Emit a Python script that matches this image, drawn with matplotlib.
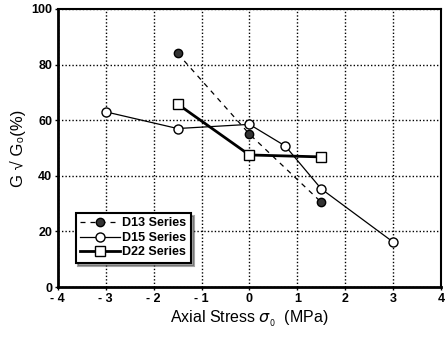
import matplotlib.pyplot as plt
from matplotlib.ticker import FixedLocator, FuncFormatter

# data
d13_x = [-1.5, 0.0, 1.5]
d13_y = [84, 55, 30.5]
d15_x = [-3.0, -1.5, 0.0, 0.75, 1.5, 3.0]
d15_y = [63, 57, 58.5, 50.7, 35.3, 16.2]
d22_x = [-1.5, 0.0, 1.5]
d22_y = [65.8, 47.5, 46.8]

x_ticks = [-4, -3, -2, -1, 0, 1, 2, 3, 4]
y_ticks = [0, 20, 40, 60, 80, 100]

plt.rcParams["font.family"] = ["Liberation Sans", "DejaVu Sans"]

fig = plt.figure(figsize=(4.45, 3.43), dpi=100)
ax = fig.add_axes([0.130, 0.163, 0.861, 0.811])

ax.plot(d13_x, d13_y, linestyle=(0, (4, 4)), color="black", linewidth=0.9,
        marker="o", markersize=6, markerfacecolor="#333333",
        markeredgecolor="black", label="D13 Series", zorder=3)
ax.plot(d15_x, d15_y, "-", color="black", linewidth=0.9,
        marker="o", markersize=6.5, markerfacecolor="white",
        markeredgecolor="black", label="D15 Series", zorder=3)
ax.plot(d22_x, d22_y, "-", color="black", linewidth=2.0,
        marker="s", markersize=6.5, markerfacecolor="white",
        markeredgecolor="black", markeredgewidth=1.0,
        label="D22 Series", zorder=2)

ax.set_xlim(-4, 4)
ax.set_ylim(0, 100)
ax.xaxis.set_major_locator(FixedLocator(x_ticks))
ax.yaxis.set_major_locator(FixedLocator(y_ticks))
ax.xaxis.set_major_formatter(FuncFormatter(
    lambda v, p: f"- {abs(int(v))}" if v < 0 else f"{int(v)}"))
ax.tick_params(axis="both", labelsize=9, direction="out", length=2, width=1,
               pad=2)
for lbl in ax.get_xticklabels() + ax.get_yticklabels():
    lbl.set_fontweight("bold")

ax.grid(True, linestyle=(0, (1, 1.5)), color="black", linewidth=1.0)

ax.spines["left"].set_linewidth(2.0)
ax.spines["bottom"].set_linewidth(2.0)
ax.spines["top"].set_linewidth(1.5)
ax.spines["right"].set_linewidth(1.5)

ax.set_xlabel(r"Axial Stress $\sigma_{_0}$  (MPa)", fontsize=11.5, labelpad=3)
ax.set_ylabel("G √ G₀(%)", fontsize=12, labelpad=4)

leg = ax.legend(loc="lower left", bbox_to_anchor=(0.03, 0.065),
                frameon=True, fancybox=False, shadow=True, handlelength=3.2,
                borderpad=0.35, labelspacing=0.2, handletextpad=0.2,
                prop={"weight": "bold", "size": 9})
leg.get_frame().set_edgecolor("black")
leg.get_frame().set_linewidth(1.5)

fig.savefig("out.png", dpi=100)
